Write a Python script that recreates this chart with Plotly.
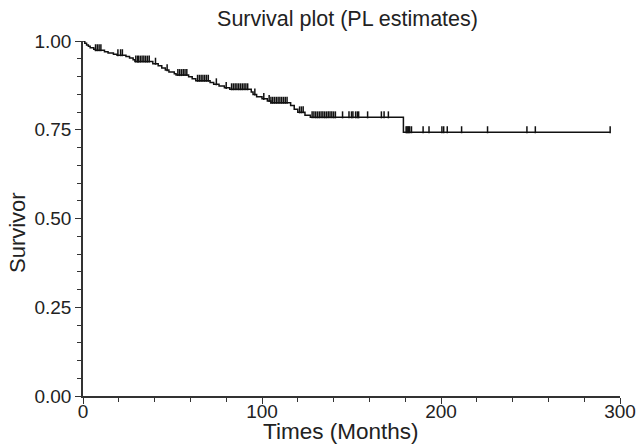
import plotly.graph_objects as go
import numpy as np

# Kaplan-Meier (product-limit) step estimates
step_times = [0, 1, 2, 3, 4, 6, 7, 12, 14, 17, 19, 24, 26, 28, 29, 39, 42, 44, 46, 48,
              51, 52, 59, 61, 63, 71, 73, 76, 79, 82, 94, 95, 97, 100, 103, 105, 116,
              118, 120, 124, 127, 179]
step_surv = [1.000, 0.994, 0.989, 0.985, 0.981, 0.977, 0.974, 0.970, 0.966, 0.963, 0.960,
             0.956, 0.952, 0.947, 0.942, 0.936, 0.930, 0.924, 0.918, 0.913, 0.908, 0.904,
             0.899, 0.894, 0.888, 0.883, 0.878, 0.873, 0.868, 0.864, 0.856, 0.849, 0.843,
             0.837, 0.831, 0.826, 0.818, 0.808, 0.799, 0.791, 0.785, 0.743]
end_time = 294.5

censor_times = [7, 8, 9, 10, 19.5, 21, 22, 29.5, 30.5, 31, 32, 33, 34, 35, 36, 37, 40.5, 47,
                53, 54, 55, 56, 57, 58, 64, 65, 66, 67, 68, 69, 70, 74.5, 80,
                83, 84, 85, 86, 87, 88, 89, 90, 91, 92, 96, 101,
                104, 105, 106, 107, 108, 109, 110, 111, 112, 113, 114, 121, 122, 123,
                128, 129, 130, 131, 132, 133, 134, 135, 136, 137, 138, 139, 140, 141,
                145, 148.6, 150, 150.8, 152.3, 153.3, 154, 159, 166.7, 168.2, 170.6,
                180.5, 181, 181.5, 182, 182.5, 183.5, 190, 193.3, 200.5, 201.5, 203.5,
                211.5, 226, 248, 252.7, 294.5]

x_ticks = [0, 100, 200, 300]
y_ticks = [0.00, 0.25, 0.50, 0.75, 1.00]
y_tick_labels = ["0.00", "0.25", "0.50", "0.75", "1.00"]

line_x = step_times + [end_time]
line_y = step_surv + [step_surv[-1]]

st = np.array(step_times)
sv = np.array(step_surv)
cens_y = [sv[np.searchsorted(st, t, side="right") - 1] for t in censor_times]
offset = 0.007

FONT = "Liberation Sans, Arial, Helvetica, sans-serif"
W, H = 638, 447
L, R, T, B = 83, 18, 41, 51
PW, PH = W - L - R, H - T - B

fig = go.Figure()
fig.add_trace(go.Scatter(x=line_x, y=line_y, mode="lines",
                         line=dict(shape="hv", color="#111111", width=1.5),
                         hoverinfo="skip", showlegend=False))
fig.add_trace(go.Scatter(x=censor_times, y=[v + offset for v in cens_y], mode="markers",
                         marker=dict(symbol="line-ns", size=5,
                                     line=dict(color="#111111", width=1.5)),
                         showlegend=False))

fig.update_layout(
    width=W, height=H,
    margin=dict(l=L, r=R, t=T, b=B),
    paper_bgcolor="white", plot_bgcolor="white",
    font=dict(family=FONT, size=19, color="#222222"),
    title=dict(text="Survival plot (PL estimates)", x=347.5 / W, xanchor="center",
               xref="container", y=1 - 18 / H, yanchor="middle", font=dict(size=21.5)),
    annotations=[
        dict(text="Times (Months)", xref="paper", yref="paper",
             x=(340 - L) / PW, y=-(H - 1 - (H - B)) / PH, xanchor="center", yanchor="bottom",
             showarrow=False, font=dict(size=22.5)),
        dict(text="Survivor", xref="paper", yref="paper", textangle=-90,
             x=-(L - 18) / PW, y=((H - B) - 233) / PH, xanchor="center", yanchor="middle",
             showarrow=False, font=dict(size=22)),
    ],
)
fig.update_xaxes(range=[0, 300], tickvals=x_ticks, ticks="outside", ticklen=6,
                 tickwidth=1.2, tickcolor="#333333", ticklabelstandoff=-9,
                 minor=dict(dtick=20, ticks="outside", ticklen=4, tickwidth=1.2,
                            tickcolor="#333333", showgrid=False),
                 showline=True, linecolor="#333333", linewidth=1.5,
                 showgrid=False, zeroline=False, automargin=False,
                 tickfont=dict(size=19))
fig.update_yaxes(range=[0, 1.0], tickvals=y_ticks, ticktext=y_tick_labels,
                 ticks="outside", ticklen=6, tickwidth=1.2, tickcolor="#333333",
                 minor=dict(dtick=0.05, ticks="outside", ticklen=4, tickwidth=1.2,
                            tickcolor="#333333", showgrid=False),
                 showline=True, linecolor="#333333", linewidth=1.5,
                 showgrid=False, zeroline=False, automargin=False,
                 tickfont=dict(size=19))

fig.write_html("out.html", config={"displayModeBar": False},
               post_script="document.body.style.margin='0';document.body.style.overflow='hidden';")
